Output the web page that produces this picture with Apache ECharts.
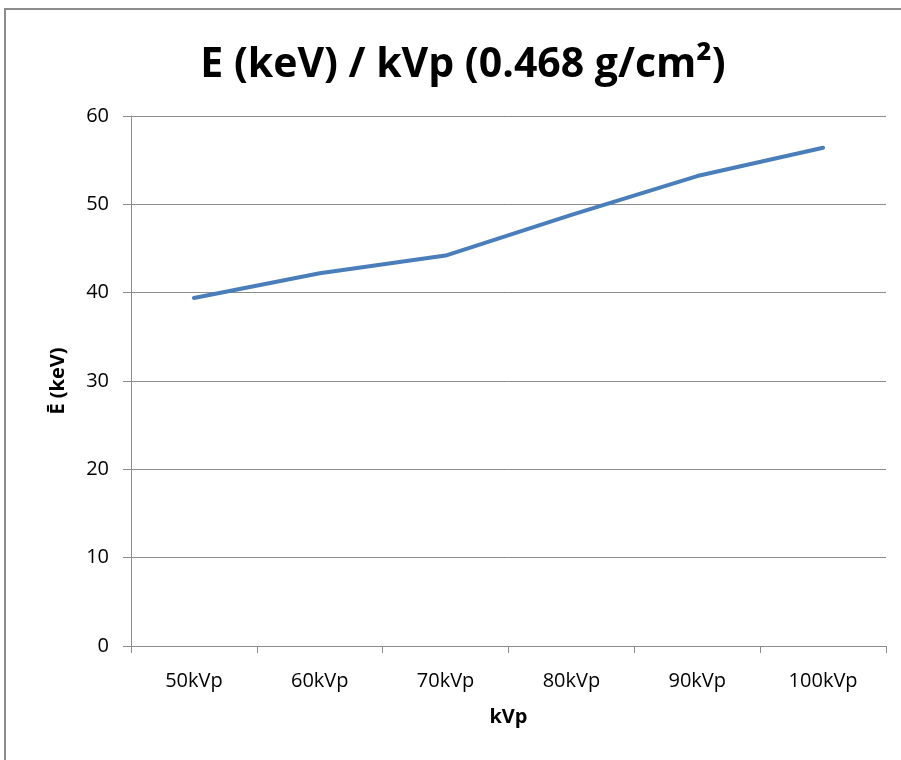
<!DOCTYPE html>
<html>
<head>
<meta charset="utf-8">
<script src="https://cdn.jsdelivr.net/npm/echarts@6/dist/echarts.min.js"></script>
<style>
html, body { margin: 0; padding: 0; background: #fff; }
#chart { width: 901px; height: 760px; }
</style>
</head>
<body>
<div id="chart"></div>
<script>
// data
var categories = ['50kVp', '60kVp', '70kVp', '80kVp', '90kVp', '100kVp'];
var meanEnergy = [39.4, 42.2, 44.2, 48.8, 53.2, 56.4];
var yTicks = [0, 60, 10]; // min, max, interval

window.onload = function() {
	var myChart = echarts.init(document.getElementById('chart'));
	var font = 'Open Sans';
	var option = {
		backgroundColor: '#fff',
		animation: false,
		title: {
			text: 'E (keV) / kVp (0.468 g/cm²)',
			left: 458, top: 40, textAlign: 'center',
			textStyle: { fontFamily: font, fontSize: 41, fontWeight: 'bold', color: '#000' }
		},
		// outer chart border (cut off on right/bottom)
		graphic: [{
			type: 'rect', silent: true,
			shape: { x: 5, y: 9, width: 1000, height: 1000 },
			style: { fill: 'none', stroke: '#8c8c8c', lineWidth: 2 }
		}],
		grid: { left: 131, right: 15, top: 116, bottom: 114 },
		xAxis: {
			type: 'category',
			data: categories,
			boundaryGap: true,
			name: 'kVp', nameLocation: 'middle', nameGap: 61,
			nameTextStyle: { fontFamily: font, fontSize: 20, fontWeight: 'bold', color: '#000' },
			axisLine: { lineStyle: { color: '#8c8c8c', width: 1 } },
			axisTick: { show: true, alignWithLabel: false, length: 7, lineStyle: { color: '#8c8c8c' } },
			axisLabel: { fontFamily: font, fontSize: 20, color: '#000', margin: 25 }
		},
		yAxis: {
			type: 'value',
			min: yTicks[0], max: yTicks[1], interval: yTicks[2],
			name: 'Ē (keV)', nameLocation: 'middle', nameGap: 63, nameRotate: 90,
			nameTextStyle: { fontFamily: font, fontSize: 20, fontWeight: 'bold', color: '#000' },
			axisLine: { show: true, lineStyle: { color: '#8c8c8c', width: 1 } },
			axisTick: { show: true, length: 8, lineStyle: { color: '#8c8c8c' } },
			axisLabel: { fontFamily: font, fontSize: 20, color: '#000', margin: 22 },
			splitLine: { lineStyle: { color: '#8c8c8c', width: 1 } }
		},
		series: [{
			type: 'line',
			data: meanEnergy,
			symbol: 'none',
			lineStyle: { color: '#4a7ebb', width: 4, cap: 'round', join: 'round' }
		}]
	};
	myChart.setOption(option);
};
</script>
</body>
</html>
